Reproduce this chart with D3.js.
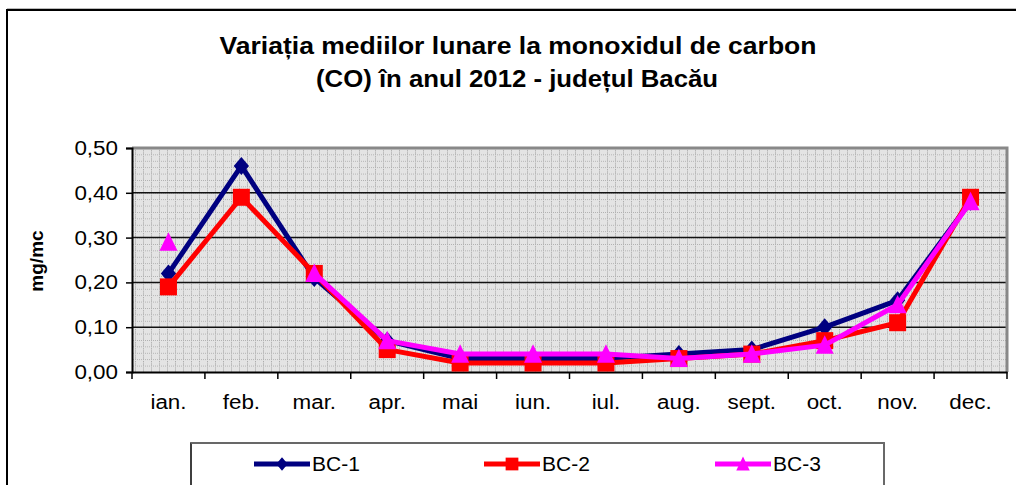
<!DOCTYPE html>
<html lang="ro">
<head>
<meta charset="UTF-8">
<title>CO 2012 Bacău</title>
<script src="https://d3js.org/d3.v7.min.js"></script>
<style>
    body { margin: 0; background: #fff; }
    svg text { font-family: "Liberation Sans", Arial, sans-serif; }
</style>
</head>
<body>
<svg id="chart" width="1016" height="485"></svg>
<script>
    // data
    const months = ["ian.", "feb.", "mar.", "apr.", "mai", "iun.", "iul.", "aug.", "sept.", "oct.", "nov.", "dec."];
    const bc1 = [0.22, 0.46, 0.21, 0.07, 0.03, 0.03, 0.03, 0.04, 0.05, 0.10, 0.16, 0.38];
    const bc2 = [0.19, 0.39, 0.22, 0.05, 0.02, 0.02, 0.02, 0.03, 0.04, 0.07, 0.11, 0.39];
    const bc3 = [0.29, null, 0.22, 0.07, 0.04, 0.04, 0.04, 0.03, 0.04, 0.06, 0.15, 0.38];
    const yTicks = [0, 0.1, 0.2, 0.3, 0.4, 0.5];

    // marker shapes (half size r)
    const diamond = r => `M0,${-r}L${r * 0.85},0L0,${r}L${-r * 0.85},0Z`;
    const square = r => `M${-r},${-r}H${r}V${r}H${-r}Z`;
    const triangle = r => `M0,${-r * 1.1}L${r},${r * 0.95}L${-r},${r * 0.95}Z`;

    const series = [
        { name: "BC-1", values: bc1, color: "#000080", shape: diamond, r: 9, legendX: 254 },
        { name: "BC-2", values: bc2, color: "#ff0000", shape: square, r: 8.5, legendX: 484 },
        { name: "BC-3", values: bc3, color: "#ff00ff", shape: triangle, r: 9, legendX: 715 }
    ];

    const svg = d3.select("#chart");
    const plot = { left: 132, top: 148, right: 1007, bottom: 372 };

    // widen text a little, the source font is drawn broader
    function stretch(sel, k) {
        sel.each(function () {
            const w = this.getComputedTextLength();
            d3.select(this).attr("textLength", w * k).attr("lengthAdjust", "spacingAndGlyphs");
        });
    }

    // outer frame
    svg.append("line").attr("x1", 7).attr("x2", 1016).attr("y1", 8.5).attr("y2", 8.5)
        .attr("stroke", "#bbb").attr("stroke-width", 1);
    svg.append("rect").attr("x", 7).attr("y", 10).attr("width", 1100).attr("height", 600)
        .attr("fill", "none").attr("stroke", "#000").attr("stroke-width", 2);

    // title
    const title = svg.append("g").attr("font-size", 24).attr("font-weight", "bold");
    title.append("text").attr("text-anchor", "middle").attr("x", 518).attr("y", 54)
        .attr("textLength", 597).attr("lengthAdjust", "spacingAndGlyphs")
        .text("Variația mediilor lunare la monoxidul de carbon");
    title.append("text").attr("text-anchor", "middle").attr("x", 517).attr("y", 87)
        .attr("textLength", 402).attr("lengthAdjust", "spacingAndGlyphs")
        .text("(CO) în anul 2012 - județul Bacău");

    const x = d3.scaleBand().domain(months).range([plot.left, plot.right]);
    const y = d3.scaleLinear().domain([0, 0.5]).range([plot.bottom, plot.top]);

    // plot background with small dotted pattern
    const defs = svg.append("defs");
    const pat = defs.append("pattern").attr("id", "grid").attr("patternUnits", "userSpaceOnUse")
        .attr("x", plot.left + 3).attr("y", plot.top).attr("width", 8).attr("height", 6.4);
    pat.append("rect").attr("width", 8).attr("height", 6.4).attr("fill", "#e4e4e4");
    pat.append("line").attr("x1", 0.5).attr("x2", 0.5).attr("y1", 0).attr("y2", 6.4)
        .attr("stroke", "#9a9a9a").attr("stroke-width", 1).attr("stroke-dasharray", "1,1");
    pat.append("line").attr("x1", 0).attr("x2", 8).attr("y1", 0.5).attr("y2", 0.5)
        .attr("stroke", "#b0b0b0").attr("stroke-width", 1).attr("stroke-dasharray", "1,1");

    svg.append("rect").attr("x", plot.left).attr("y", plot.top)
        .attr("width", plot.right - plot.left).attr("height", plot.bottom - plot.top)
        .attr("fill", "url(#grid)");

    // major gridlines
    svg.append("g").selectAll("line")
        .data(yTicks.filter(d => d > 0 && d < 0.5))
        .join("line")
        .attr("x1", plot.left).attr("x2", plot.right)
        .attr("y1", d => y(d)).attr("y2", d => y(d))
        .attr("stroke", "#111").attr("stroke-width", 1.5);

    // plot border (top/right gray)
    svg.append("path")
        .attr("d", `M${plot.left},${plot.top}H${plot.right}V${plot.bottom}`)
        .attr("fill", "none").attr("stroke", "#888").attr("stroke-width", 3);

    // y axis
    const yAxis = svg.append("g").attr("transform", `translate(${plot.left},0)`)
        .call(d3.axisLeft(y).tickValues(yTicks).tickSize(6).tickPadding(8)
            .tickFormat(d => d3.format(".2f")(d).replace(".", ",")));
    yAxis.select(".domain").attr("stroke", "#000").attr("stroke-width", 2);
    yAxis.selectAll(".tick line").attr("stroke", "#000").attr("stroke-width", 1.5);
    yAxis.selectAll(".tick text").attr("font-size", 20).attr("fill", "#000")
        .attr("font-family", "Liberation Sans, Arial, sans-serif").call(stretch, 1.12);

    // x axis with ticks between categories
    const xAxis = svg.append("g").attr("transform", `translate(0,${plot.bottom})`)
        .call(d3.axisBottom(x).tickSize(0).tickPadding(23));
    xAxis.select(".domain").attr("stroke", "#000").attr("stroke-width", 2);
    xAxis.selectAll(".tick text").attr("font-size", 20).attr("fill", "#000")
        .attr("font-family", "Liberation Sans, Arial, sans-serif").call(stretch, 1.12);
    xAxis.selectAll(".boundary")
        .data(d3.range(months.length + 1))
        .join("line")
        .attr("x1", i => plot.left + i * x.step()).attr("x2", i => plot.left + i * x.step())
        .attr("y1", 0).attr("y2", 7)
        .attr("stroke", "#000").attr("stroke-width", 1.5);

    // y axis title
    svg.append("text")
        .attr("transform", `translate(43,261) rotate(-90)`)
        .attr("text-anchor", "middle").attr("font-size", 19).attr("font-weight", "bold")
        .text("mg/mc");

    // series lines and markers
    const cx = i => x(months[i]) + x.bandwidth() / 2;
    const line = d3.line()
        .defined(d => d != null)
        .x((d, i) => cx(i))
        .y(d => y(d));

    series.forEach(s => {
        svg.append("path")
            .datum(s.values)
            .attr("d", line)
            .attr("fill", "none")
            .attr("stroke", s.color)
            .attr("stroke-width", 5)
            .attr("stroke-linejoin", "round");
        svg.append("g").selectAll("path")
            .data(s.values.map((v, i) => ({ v, i })).filter(d => d.v != null))
            .join("path")
            .attr("transform", d => `translate(${cx(d.i)},${y(d.v)})`)
            .attr("d", s.shape(s.r))
            .attr("fill", s.color);
    });

    // legend
    svg.append("rect").attr("x", 191).attr("y", 443).attr("width", 693).attr("height", 60)
        .attr("fill", "#fff").attr("stroke", "#000").attr("stroke-width", 1.5);
    svg.append("line").attr("x1", 191).attr("x2", 884).attr("y1", 443).attr("y2", 443)
        .attr("stroke", "#777").attr("stroke-width", 1.5);
    svg.append("line").attr("x1", 884).attr("x2", 884).attr("y1", 443).attr("y2", 485)
        .attr("stroke", "#777").attr("stroke-width", 1.5);

    const leg = svg.append("g").selectAll("g").data(series).join("g")
        .attr("transform", s => `translate(${s.legendX},464)`);
    leg.append("line").attr("x1", 0).attr("x2", 56).attr("y1", 0).attr("y2", 0)
        .attr("stroke", s => s.color).attr("stroke-width", 5);
    leg.append("path").attr("transform", "translate(28,0)")
        .attr("d", s => s.shape(s.r * 0.75))
        .attr("fill", s => s.color);
    leg.append("text").attr("x", 58).attr("y", 7).attr("font-size", 20).text(s => s.name)
        .call(stretch, 1.05);
</script>
</body>
</html>
